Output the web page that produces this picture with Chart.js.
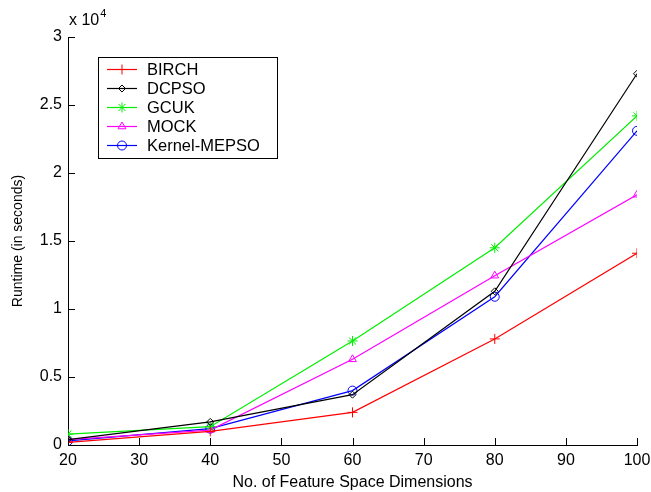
<!DOCTYPE html>
<html>
<head>
<meta charset="utf-8">
<script src="https://cdn.jsdelivr.net/npm/chart.js@4/dist/chart.umd.min.js"></script>
<style>
  html, body { margin: 0; padding: 0; background: #fff; }
  #wrap { width: 651px; height: 492px; position: relative; }
</style>
</head>
<body>
<div id="wrap"><canvas id="c"></canvas></div>
<script>
// ── Data (runtime in units of 10^4 seconds) ──
const dims = [20, 40, 60, 80, 100];
const birch = [0.02, 0.10, 0.24, 0.78, 1.41];
const dcpso = [0.04, 0.17, 0.37, 1.13, 2.73];
const gcuk = [0.08, 0.135, 0.765, 1.45, 2.42];
const mock = [0.04, 0.11, 0.63, 1.245, 1.84];
const kernel = [0.03, 0.12, 0.40, 1.09, 2.31];
const xTicks = [20, 30, 40, 50, 60, 70, 80, 90, 100];
const yTicks = [0, 0.5, 1, 1.5, 2, 2.5, 3];

const FONT = 'Liberation Sans, Arial, sans-serif';

const seriesDefs = [
  { label: 'BIRCH', data: birch, color: '#ff0000', style: 'cross', r: 5 },
  { label: 'DCPSO', data: dcpso, color: '#000000', style: 'rectRot', r: 3.5 },
  { label: 'GCUK', data: gcuk, color: '#00ee00', style: 'star', r: 5 },
  { label: 'MOCK', data: mock, color: '#ff00ff', style: 'triangle', r: 4.5 },
  { label: 'Kernel-MEPSO', data: kernel, color: '#0000ff', style: 'circle', r: 4.5 }
];

const datasets = seriesDefs.map(s => ({
  label: s.label,
  data: s.data.map((v, i) => ({ x: dims[i], y: v })),
  borderColor: s.color, backgroundColor: 'transparent',
  pointBackgroundColor: 'transparent', pointBorderColor: s.color,
  pointStyle: s.style, pointRadius: s.r, pointBorderWidth: 1,
  borderWidth: 1.2, tension: 0
}));

// inward ticks, exponent label, boxed legend
const matlabAxes = {
  id: 'matlabAxes',
  afterDatasetsDraw(chart) {
    const { ctx, chartArea: a, scales: { x, y } } = chart;
    ctx.save();
    ctx.strokeStyle = '#000'; ctx.lineWidth = 1;
    ctx.beginPath();
    xTicks.forEach(t => {
      const px = Math.round(x.getPixelForValue(t)) + 0.5;
      ctx.moveTo(px, a.bottom); ctx.lineTo(px, a.bottom - 7);
    });
    yTicks.forEach(t => {
      const py = Math.round(y.getPixelForValue(t)) + 0.5;
      ctx.moveTo(a.left, py); ctx.lineTo(a.left + 7, py);
    });
    ctx.stroke();

    // x 10^4
    ctx.fillStyle = '#000';
    ctx.textBaseline = 'alphabetic';
    ctx.font = '16px ' + FONT;
    ctx.fillText('x 10', a.left + 1, a.top - 12);
    const w = ctx.measureText('x 10').width;
    ctx.font = '11px ' + FONT;
    ctx.fillText('4', a.left + 1 + w + 1, a.top - 20);

    // legend box
    const bx = 98, by = 57, bw = 179, bh = 101;
    ctx.fillStyle = '#fff';
    ctx.fillRect(bx, by, bw, bh);
    ctx.strokeRect(bx + 0.5, by + 0.5, bw, bh);
    ctx.font = '16.5px ' + FONT;
    ctx.textBaseline = 'middle';
    seriesDefs.forEach((s, i) => {
      const ly = by + 12.5 + i * 19;
      ctx.strokeStyle = s.color;
      ctx.lineWidth = 1.2;
      ctx.beginPath(); ctx.moveTo(bx + 9, ly); ctx.lineTo(bx + 39, ly); ctx.stroke();
      ctx.lineWidth = 1;
      ctx.fillStyle = 'transparent';
      Chart.helpers.drawPoint(ctx, { pointStyle: s.style, radius: s.r, rotation: 0, borderWidth: 1 }, bx + 24, ly);
      ctx.fillStyle = '#000';
      ctx.fillText(s.label, bx + 49, ly + 1);
    });
    ctx.restore();
  }
};

new Chart(document.getElementById('c'), {
  type: 'line',
  data: { datasets },
  plugins: [matlabAxes],
  options: {
    responsive: true, maintainAspectRatio: false, animation: false,
    layout: { padding: { left: 0, right: 14, top: 37, bottom: 0 } },
    plugins: { legend: { display: false }, tooltip: { enabled: false } },
    scales: {
      x: {
        type: 'linear', min: 20, max: 100,
        afterBuildTicks: s => { s.ticks = xTicks.map(v => ({ value: v })); },
        afterFit: s => { s.height = 47; s.paddingLeft = 0; s.paddingRight = 0; },
        grid: { drawOnChartArea: false, drawTicks: false },
        border: { color: '#000', width: 1 },
        ticks: { color: '#000', font: { family: FONT, size: 16 }, padding: 6, maxRotation: 0 },
        title: { display: true, text: 'No. of Feature Space Dimensions', color: '#000', font: { family: FONT, size: 16 }, padding: { top: 2, bottom: 0 } }
      },
      y: {
        type: 'linear', min: 0, max: 3,
        afterBuildTicks: s => { s.ticks = yTicks.map(v => ({ value: v })); },
        afterFit: s => { s.width = 68; },
        grid: { drawOnChartArea: false, drawTicks: false },
        border: { color: '#000', width: 1 },
        ticks: { color: '#000', font: { family: FONT, size: 16 }, padding: 6, callback: v => String(v) },
        title: { display: true, text: 'Runtime (in seconds)', color: '#000', font: { family: FONT, size: 14 }, padding: { top: 10, bottom: 0 } }
      }
    }
  }
});
</script>
</body>
</html>
